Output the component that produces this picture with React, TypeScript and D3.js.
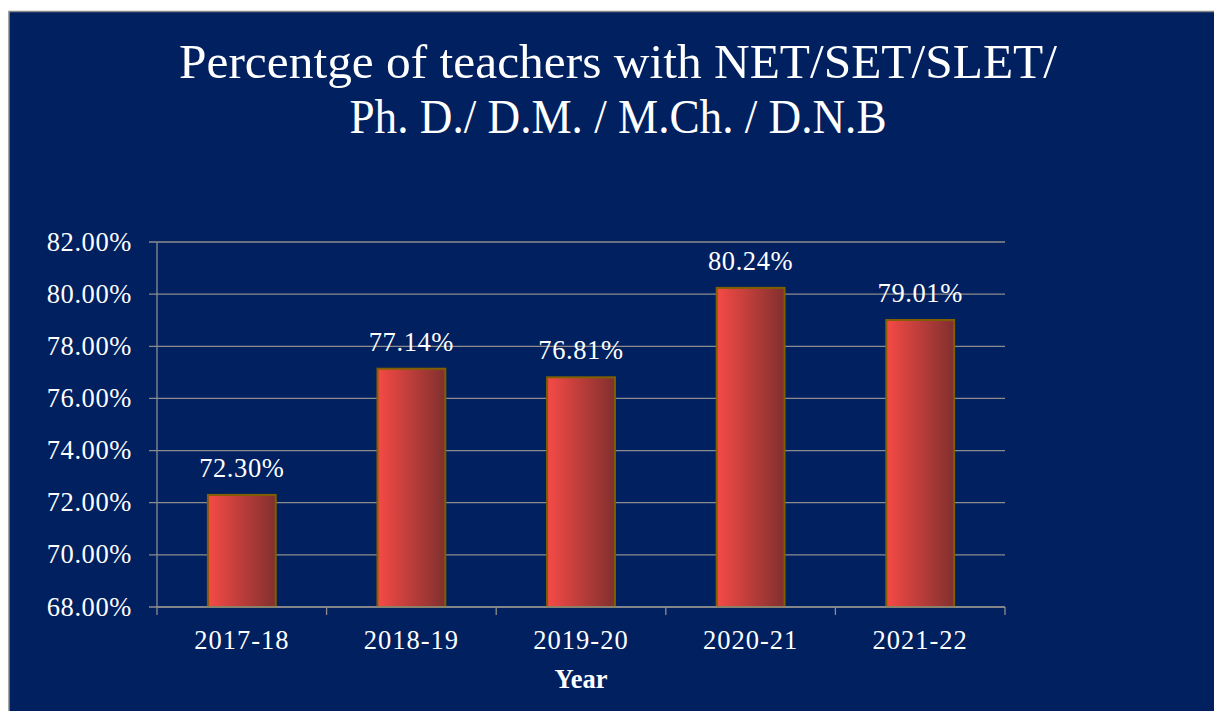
import React from "react";
import * as d3 from "d3";

const categories = ["2017-18", "2018-19", "2019-20", "2020-21", "2021-22"];
const values = [72.3, 77.14, 76.81, 80.24, 79.01];
const yTicks = [68, 70, 72, 74, 76, 78, 80, 82];
const titleLines = ["Percentge of teachers with NET/SET/SLET/", "Ph. D./ D.M. / M.Ch. / D.N.B"];
const xAxisTitle = "Year";

const W = 1214;
const H = 711;
const FONT = "'Liberation Serif', 'DejaVu Serif', serif";

export default function App() {
  const left = 157;
  const right = 1005;
  const top = 242;
  const bottom = 607;
  const x = d3.scaleBand<string>().domain(categories).range([left, right]).paddingInner(0.6).paddingOuter(0.3);
  const xb = d3.scaleBand<string>().domain(categories).range([left, right]);
  const y = d3.scaleLinear().domain([68, 82]).range([bottom, top]);
  const grid = "#8c8c8c";
  const titleWidths = [878, 537];
  const fs = 26.5;
  return (
    <svg width={W} height={H} style={{ position: "absolute", left: 0, top: 0, display: "block" }}>
      <defs>
        <linearGradient id="barGrad" x1="0" y1="0" x2="1" y2="0">
          <stop offset="0%" stopColor="#f64a46" />
          <stop offset="100%" stopColor="#80302e" />
        </linearGradient>
      </defs>
      <rect x={0} y={0} width={W} height={H} fill="#ffffff" />
      <rect x={9} y={11.5} width={W + 20} height={H + 20} fill="#002060" stroke="#888888" strokeWidth={1.5} />
      {titleLines.map((t, i) => (
        <text key={i} x={618} y={78 + i * 55} textAnchor="middle" fill="#ffffff" fontFamily={FONT} fontSize={49}
          textLength={titleWidths[i]} lengthAdjust="spacingAndGlyphs">
          {t}
        </text>
      ))}
      {yTicks.map((t) => (
        <g key={t}>
          <line x1={149} x2={right} y1={y(t)} y2={y(t)} stroke={grid} strokeWidth={1.3} />
          <text x={132} y={y(t) + 8.5} textAnchor="end" fill="#ffffff" fontFamily={FONT} fontSize={fs} letterSpacing={0.6}>
            {t.toFixed(2)}%
          </text>
        </g>
      ))}
      <line x1={left} x2={left} y1={top} y2={bottom + 8} stroke={grid} strokeWidth={1.3} />
      {categories.map((c) => (
        <line key={"t" + c} x1={(xb(c) as number) + xb.bandwidth()} x2={(xb(c) as number) + xb.bandwidth()} y1={bottom} y2={bottom + 8} stroke={grid} strokeWidth={1.3} />
      ))}
      {categories.map((c, i) => {
        const bx = x(c) as number;
        const by = y(values[i]);
        return (
          <g key={c}>
            <rect x={bx} y={by} width={x.bandwidth()} height={bottom - by} fill="url(#barGrad)" stroke="#7f6000" strokeWidth={2} />
            <text x={bx + x.bandwidth() / 2} y={by - 18} textAnchor="middle" fill="#ffffff" fontFamily={FONT} fontSize={fs} letterSpacing={0.6}>
              {values[i].toFixed(2)}%
            </text>
            <text x={bx + x.bandwidth() / 2} y={649} textAnchor="middle" fill="#ffffff" fontFamily={FONT} fontSize={fs} letterSpacing={1}>
              {c}
            </text>
          </g>
        );
      })}
      <line x1={left} x2={right} y1={bottom} y2={bottom} stroke={grid} strokeWidth={1.3} />
      <text x={(left + right) / 2} y={688} textAnchor="middle" fill="#ffffff" fontFamily={FONT} fontSize={fs} fontWeight="bold">
        {xAxisTitle}
      </text>
    </svg>
  );
}
